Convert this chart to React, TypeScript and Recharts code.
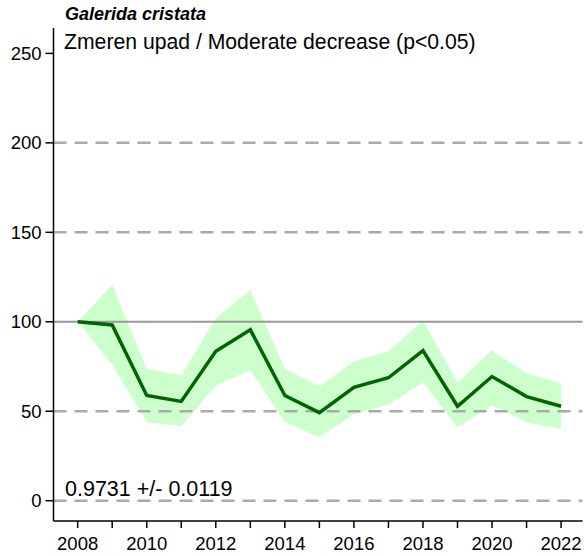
import React from 'react';
import { ComposedChart, Area, Line, XAxis, YAxis, ReferenceLine } from 'recharts';

const years = [2008, 2009, 2010, 2011, 2012, 2013, 2014, 2015, 2016, 2017, 2018, 2019, 2020, 2021, 2022];
const index = [100, 98.2, 58.8, 55.5, 83.5, 95.6, 58.8, 49.2, 63.4, 68.7, 83.9, 52.8, 69.4, 58.2, 52.8];
const upper = [100, 120.7, 73.7, 70, 102, 117.7, 73.7, 63.8, 77.8, 83.5, 100.6, 66.2, 83.9, 71.2, 65.7];
const lower = [100, 76, 43.9, 41.7, 64.4, 73.1, 44, 35.6, 48.2, 53.8, 66.2, 41.1, 53.2, 43.9, 40.2];
const yTicks = [0, 50, 100, 150, 200, 250];
const dashedLines = [0, 50, 150, 200];

const title = 'Galerida cristata';
const subtitle = 'Zmeren upad / Moderate decrease (p<0.05)';
const slopeText = '0.9731 +/- 0.0119';

const data = years.map((y, i) => ({
  year: y,
  index: index[i],
  band: [lower[i], upper[i]],
}));

const FONT = '"Liberation Sans", Arial, sans-serif';

const XTick = ({ x, y, payload }: any) => {
  if (payload.value % 2 !== 0) return null;
  return (
    <text x={x} y={y + 20} textAnchor="middle" fontFamily={FONT} fontSize={18.5} fill="#000">
      {payload.value}
    </text>
  );
};

const YTick = ({ x, y, payload }: any) => (
  <text x={x - 2} y={y + 6.5} textAnchor="end" fontFamily={FONT} fontSize={18.5} fill="#000">
    {payload.value}
  </text>
);

const App: React.FC = () => {
  return (
    <div style={{ position: 'absolute', left: 0, top: 0, width: 585, height: 556, background: '#fff' }}>
      <ComposedChart width={585} height={556} data={data} margin={{ top: 28, right: 2.5, bottom: 0, left: 0 }}>
        <XAxis
          dataKey="year"
          type="number"
          domain={[2007.3, 2022.62]}
          ticks={years}
          interval={0}
          height={35}
          tick={<XTick />}
          tickSize={7}
          tickLine={{ stroke: '#000', strokeWidth: 1.5 }}
          axisLine={{ stroke: '#000', strokeWidth: 1.5 }}
          allowDataOverflow
        />
        <XAxis
          xAxisId="top"
          orientation="top"
          type="number"
          domain={[2007.3, 2022.62]}
          height={0}
          tick={false}
          tickLine={false}
          axisLine={{ stroke: '#000', strokeWidth: 1.5 }}
        />
        <YAxis
          type="number"
          domain={[-11.35, 264.2]}
          ticks={yTicks}
          interval={0}
          width={53.5}
          tick={<YTick />}
          tickSize={8}
          tickLine={{ stroke: '#000', strokeWidth: 1.5 }}
          axisLine={{ stroke: '#000', strokeWidth: 1.5 }}
          allowDataOverflow
        />
        <YAxis
          yAxisId="right"
          orientation="right"
          width={0}
          tick={false}
          tickLine={false}
          axisLine={{ stroke: '#000', strokeWidth: 1.5 }}
        />
        <Area
          dataKey="band"
          type="linear"
          stroke="none"
          fill="#99ff99"
          fillOpacity={0.5}
          isAnimationActive={false}
        />
        {dashedLines.map((v) => (
          <ReferenceLine key={v} y={v} stroke="#aaaaaa" strokeWidth={2.5} strokeDasharray="13 8" />
        ))}
        <ReferenceLine y={100} stroke="#999999" strokeWidth={2} />
        <Line
          dataKey="index"
          type="linear"
          stroke="#006400"
          strokeWidth={3.5}
          dot={false}
          isAnimationActive={false}
        />
      </ComposedChart>
      <svg width={585} height={556} style={{ position: 'absolute', left: 0, top: 0, pointerEvents: 'none' }}>
        <text x={65} y={20} fontFamily={FONT} fontSize={18} fontWeight="bold" fontStyle="italic" fill="#000">
          {title}
        </text>
        <text x={64} y={49} fontFamily={FONT} fontSize={21.2} fill="#000">
          {subtitle}
        </text>
        <text x={65} y={496} fontFamily={FONT} fontSize={21.5} fill="#000">
          {slopeText}
        </text>
      </svg>
    </div>
  );
};

export default App;
